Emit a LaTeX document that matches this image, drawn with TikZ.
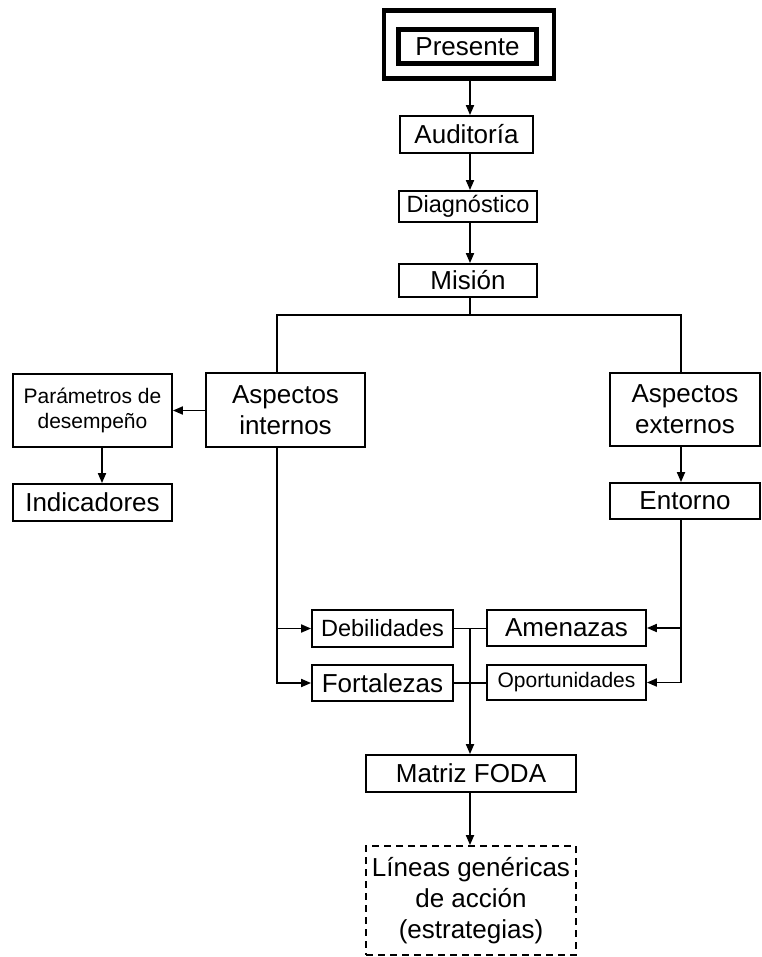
\documentclass[tikz,border=0pt]{standalone}
\usepackage{fontspec}
\setmainfont{Liberation Sans}
\usetikzlibrary{arrows.meta,calc}
\begin{document}
\begin{tikzpicture}[x=1pt,y=-1pt,
  box/.style={draw, line width=1.8pt, inner sep=0pt, align=center,
              font=\fontsize{26}{31}\selectfont},
  midtxt/.style={font=\fontsize{23.5}{28}\selectfont},
  smalltxt/.style={font=\fontsize{21}{25}\selectfont},
  conn/.style={line width=1.8pt},
  arr/.style={conn, -{Triangle[length=10pt,width=8pt]}},
]
\useasboundingbox (0,0) rectangle (761,957);

% reference columns for the vertical connectors
\coordinate (sp) at (470,0);
\coordinate (L)  at (277,0);
\coordinate (R)  at (681,0);
\coordinate (pd) at (102,0);
\coordinate (bus) at (470,315);

% central chain
\node[draw, line width=4.5pt, minimum width=170pt, minimum height=68pt] (presOuter) at (469,44.5) {};
\node[box, line width=4.5pt, minimum width=138pt, minimum height=34pt] (pres) at (467.5,46.5) {Presente};
\node[box, minimum width=133pt, minimum height=37pt] (aud) at (466.5,134.5) {Auditoría};
\node[box, midtxt, minimum width=138pt, minimum height=31pt] (diag) at (468,206.5) {Diagnóstico};
\node[box, minimum width=138pt, minimum height=33pt] (mis) at (468,280.5) {Misión};

% internal and external branches
\node[box, minimum width=159pt, minimum height=74pt] (ai) at (285.5,410) {Aspectos\\internos};
\node[box, smalltxt, minimum width=159pt, minimum height=73pt] (par) at (92.5,410.5) {Parámetros de\\desempeño};
\node[box, minimum width=159pt, minimum height=37pt] (ind) at (92.5,502.5) {Indicadores};
\node[box, minimum width=150pt, minimum height=73pt] (ae) at (685,409.5) {Aspectos\\externos};
\node[box, minimum width=150pt, minimum height=36pt] (ent) at (685,501) {Entorno};

% SWOT elements
\node[box, midtxt, minimum width=141pt, minimum height=37pt] (deb) at (382.5,628.5) {Debilidades};
\node[box, minimum width=141pt, minimum height=36pt] (fort) at (382.5,683) {Fortalezas};
\node[box, minimum width=159pt, minimum height=36pt] (ame) at (566.5,628) {Amenazas};
\node[box, smalltxt, minimum width=159pt, minimum height=35pt] (opo) at (566.5,682.5) {Oportunidades};

% result
\node[box, minimum width=210pt, minimum height=37pt] (mat) at (471,773.5) {Matriz FODA};
\node[box, dash pattern=on 7pt off 5pt, minimum width=210pt, minimum height=109pt] (lin) at (471,900.5)
  {Líneas genéricas\\de acción\\(estrategias)};

% connectors of the central chain
\draw[arr] (presOuter.south -| sp) -- (aud.north -| sp);
\draw[arr] (aud.south -| sp) -- (diag.north -| sp);
\draw[arr] (diag.south -| sp) -- (mis.north -| sp);
\draw[conn] (mis.south -| sp) -- (bus);
\draw[conn] (ai.north -| L) -- (L |- bus) -- (R |- bus) -- (ae.north -| R);

% side branches
\draw[arr] (ai.west |- par.east) -- (par.east);
\draw[arr] (par.south -| pd) -- (ind.north -| pd);
\draw[arr] (ae.south -| R) -- (ent.north -| R);

% feeding the SWOT elements
\draw[arr] (ai.south -| L) |- (fort.west);
\draw[arr] (L |- deb.west) -- (deb.west);
\draw[arr] (ent.south -| R) |- (opo.east);
\draw[arr] (R |- ame.east) -- (ame.east);

% joining the pairs
\draw[conn] (deb.east) -- (ame.west |- deb.east);
\draw[conn] (fort.east) -- (opo.west |- fort.east);
\coordinate (jn) at ($(deb.east)!0.5!(ame.west)$);
\draw[arr] (jn) -- (mat.north -| jn);
\draw[arr] (mat.south -| jn) -- (lin.north -| jn);
\end{tikzpicture}
\end{document}
